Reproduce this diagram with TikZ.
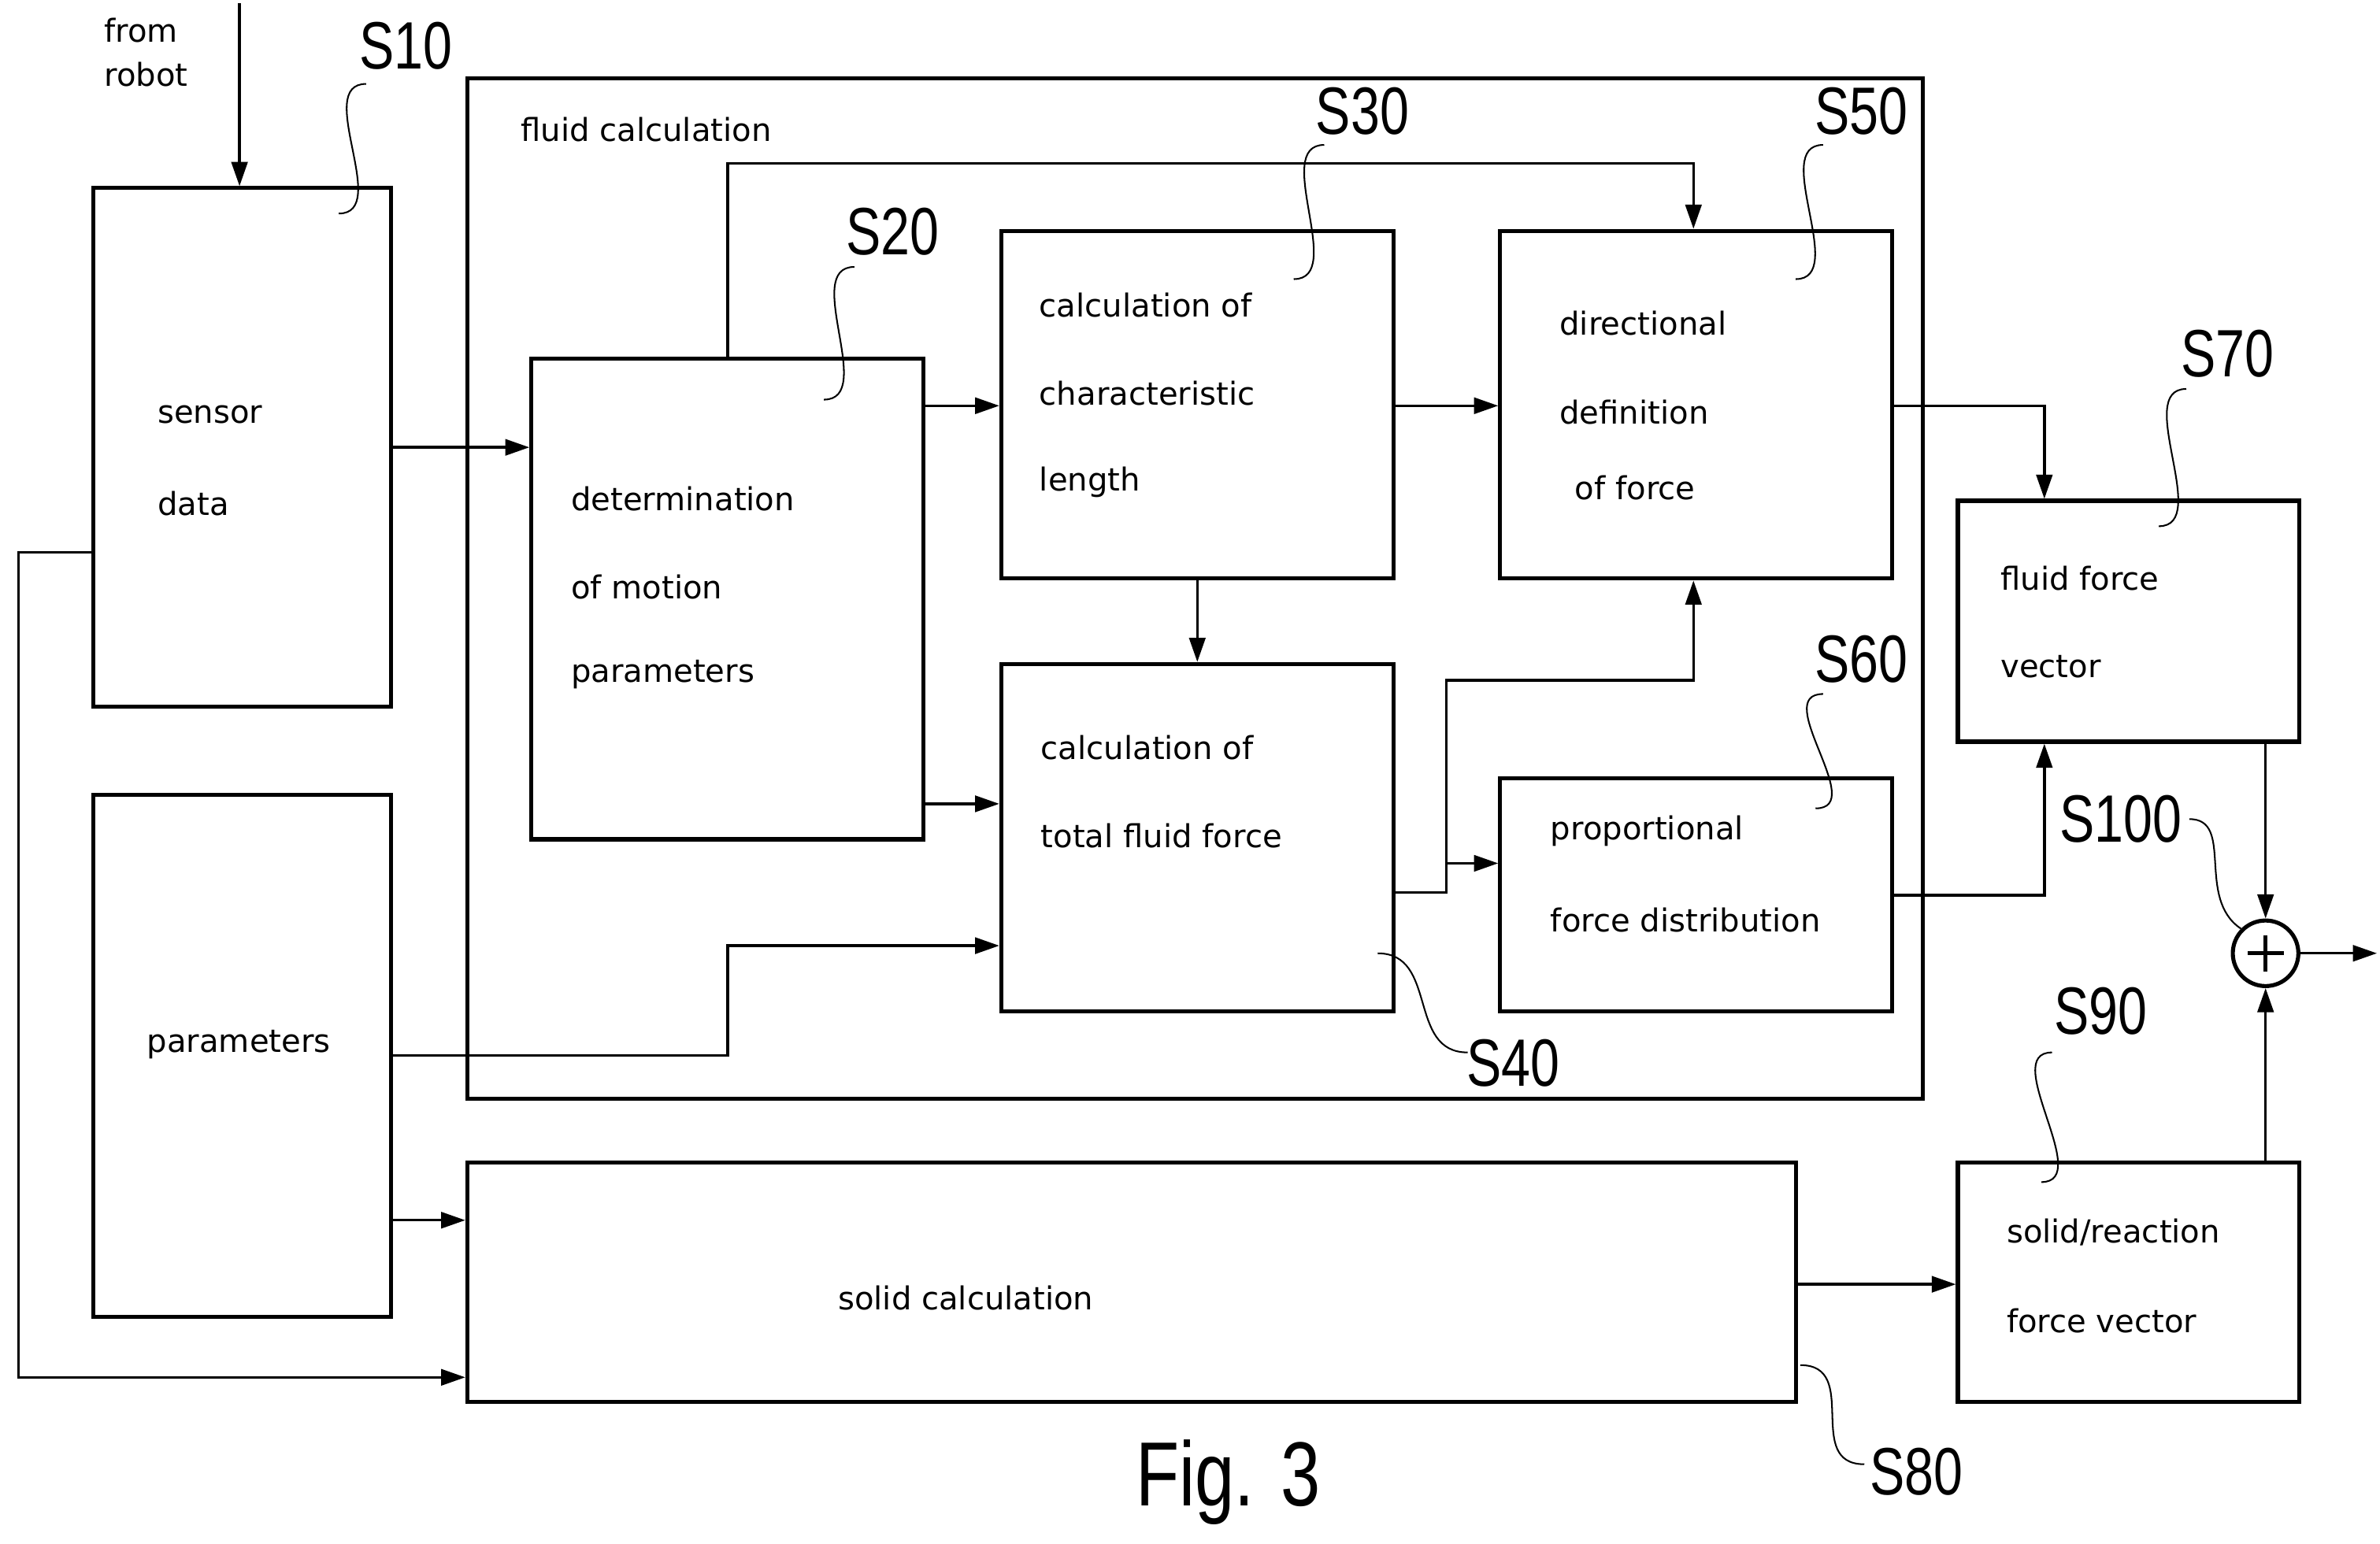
\documentclass[tikz,border=0pt]{standalone}
\usepackage{fontspec}
\setmainfont{DejaVu Sans}
\newfontfamily\labfont[FakeStretch=0.78]{Liberation Sans}
\usetikzlibrary{calc,arrows.meta}
\tikzset{
  box/.style={draw, line width=1.5pt, anchor=north west, inner sep=0pt},
  txt/.style={anchor=west, inner sep=0pt, font=\fontsize{11.8}{13}\selectfont},
  lab/.style={inner sep=0pt, font=\labfont\fontsize{25}{28}\selectfont},
  con/.style={line width=1pt},
  arr/.style={con, -{Triangle[length=9pt,width=6pt]}},
  lead/.style={line width=0.6pt}
}
\begin{document}
\begin{tikzpicture}[x=0.02cm, y=-0.02cm]
\useasboundingbox (0,0) rectangle (1560,1012);
% boxes
\node[box, minimum width=3.9cm, minimum height=6.8cm] (s10) at (60,122) {};
\node[box, minimum width=3.9cm, minimum height=6.84cm] (par) at (60,520) {};
\node[box, minimum width=19.08cm, minimum height=13.38cm] (fluid) at (305,50) {};
\node[box, minimum width=5.14cm, minimum height=6.3cm] (s20) at (347,234) {};
\node[box, minimum width=5.14cm, minimum height=4.56cm] (s30) at (655,150) {};
\node[box, minimum width=5.14cm, minimum height=4.56cm] (s50) at (982,150) {};
\node[box, minimum width=5.14cm, minimum height=4.56cm] (s40) at (655,434) {};
\node[box, minimum width=5.14cm, minimum height=3.06cm] (s60) at (982,509) {};
\node[box, minimum width=4.48cm, minimum height=3.16cm] (s70) at (1282,327) {};
\node[box, minimum width=17.42cm, minimum height=3.14cm] (solid) at (305,761) {};
\node[box, minimum width=4.48cm, minimum height=3.14cm] (s90) at (1282,761) {};
\node[draw, circle, line width=1.5pt, minimum size=0.86cm, inner sep=0pt] (sum) at (1485,625) {};
\draw[line width=1.5pt] ([yshift=-0.22cm]sum.north) -- ([yshift=0.22cm]sum.south) ([xshift=0.22cm]sum.west) -- ([xshift=-0.22cm]sum.east);
% texts
\node[txt] at (68,20) {from};
\node[txt] at (68,49) {robot};
\node[txt] at (341,85) {fluid calculation};
\node[txt] at (103,272) {sensor};
\node[txt] at (103,330) {data};
\node[txt] at (96,685) {parameters};
\node[txt] at (374,327) {determination};
\node[txt] at (374,385) {of motion};
\node[txt] at (374,442) {parameters};
\node[txt] at (681,200) {calculation of};
\node[txt] at (681,258) {characteristic};
\node[txt] at (681,316) {length};
\node[txt] at (1022,212) {directional};
\node[txt] at (1022,270) {definition};
\node[txt] at (1032,320) {of force};
\node[txt] at (682,490) {calculation of};
\node[txt] at (682,548) {total fluid force};
\node[txt] at (1016,545) {proportional};
\node[txt] at (1016,603) {force distribution};
\node[txt] at (1311,379) {fluid force};
\node[txt] at (1311,437) {vector};
\node[txt] at (549,851) {solid calculation};
\node[txt] at (1315,808) {solid/reaction};
\node[txt] at (1315,866) {force vector};
% step labels
\node[lab] (l10) at (266,30) {S10};
\node[lab] (l20) at (585,152) {S20};
\node[lab] (l30) at (893,73) {S30};
\node[lab] (l50) at (1220,73) {S50};
\node[lab] (l70) at (1460,232) {S70};
\node[lab] (l60) at (1220,432) {S60};
\node[lab] (l100) at (1390,537) {S100};
\node[lab] (l90) at (1377,663) {S90};
\node[lab] (l40) at (992,697) {S40};
\node[lab] (l80) at (1256,965) {S80};
\node[lab, font=\labfont\fontsize{34}{38}\selectfont] (fig) at (805,972) {Fig. 3};
% leaders
\draw[lead] (240,55) .. controls +(-35,0) and +(35,0) .. (222,140);
\draw[lead] (560,175) .. controls +(-35,0) and +(35,0) .. (540,262);
\draw[lead] (868,95) .. controls +(-35,0) and +(35,0) .. (848,183);
\draw[lead] (1195,95) .. controls +(-35,0) and +(35,0) .. (1177,183);
\draw[lead] (1433,255) .. controls +(-35,0) and +(35,0) .. (1415,345);
\draw[lead] (1195,455) .. controls +(-35,0) and +(35,0) .. (1190,530);
\draw[lead] (1345,690) .. controls +(-35,0) and +(35,0) .. (1338,775);
\draw[lead] (903,625) .. controls +(40,0) and +(-40,0) .. (962,690);
\draw[lead] (1180,895) .. controls +(40,0) and +(-40,0) .. (1222,960);
\draw[lead] (1435,537) .. controls +(30,0) and +(-30,-20) .. (sum.north west);
% connectors
\coordinate (robot) at (157,2);
\draw[arr] (robot) -- (robot |- s10.north);
\draw[arr] (s10.east) -- (s20.west |- s10.east);
\draw[arr] (s10.west |- 0,362) -- (12,362) |- (solid.west |- 0,903);
\draw[arr] (par.east |- 0,800) -- (solid.west |- 0,800);
\draw[arr] (par.east |- 0,692) -- (477,692) |- (s40.west |- 0,620);
\draw[arr] (s20.north -| 477,0) |- (1110,107) -- (s50.north -| 1110,0);
\draw[arr] (s20.east |- 0,266) -- (s30.west |- 0,266);
\draw[arr] (s20.east |- 0,527) -- (s40.west |- 0,527);
\draw[arr] (s30.east |- 0,266) -- (s50.west |- 0,266);
\draw[arr] (s30.south) -- (s40.north);
\draw[arr] (s40.east |- 0,585) -- (948,585) |- (1110,446) -- (s50.south -| 1110,0);
\draw[arr] (948,566) -- (s60.west |- 0,566);
\draw[arr] (s50.east |- 0,266) -| (s70.north -| 1340,0);
\draw[arr] (s60.east |- 0,587) -| (s70.south -| 1340,0);
\draw[arr] (s70.south -| sum) -- (sum.north);
\draw[arr] (s90.north -| sum) -- (sum.south);
\draw[arr] (sum.east) -- (1558,625);
\draw[arr] (solid.east |- 0,842) -- (s90.west |- 0,842);
\end{tikzpicture}
\end{document}
